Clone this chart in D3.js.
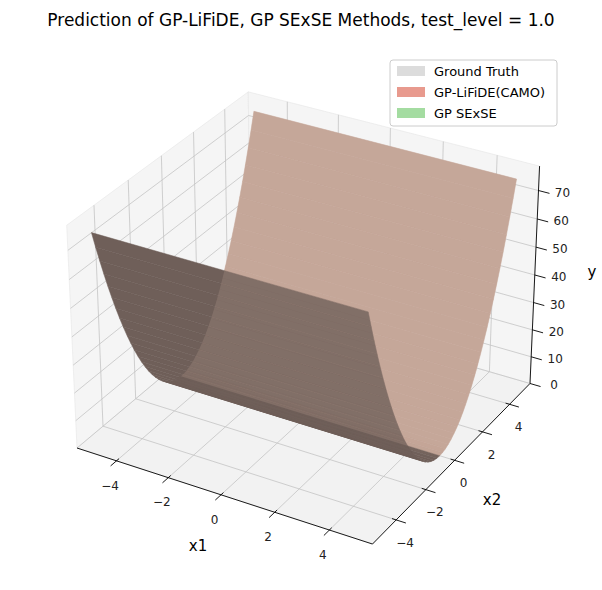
<!DOCTYPE html>
<html>
<head>
<meta charset="utf-8">
<script src="https://cdn.jsdelivr.net/npm/d3@7"></script>
<style>
  body { margin: 0; background: #fff; }
  svg text { font-family: "DejaVu Sans", sans-serif; }
</style>
</head>
<body>
<div id="graphic"></div>
<script>
// Chart data
const title = "Prediction of GP-LiFiDE, GP SExSE Methods, test_level = 1.0";
const x1Ticks = [-4, -2, 0, 2, 4];
const x2Ticks = [-4, -2, 0, 2, 4];
const zTicks = [0, 10, 20, 30, 40, 50, 60, 70];
const legendNames = ["Ground Truth", "GP-LiFiDE(CAMO)", "GP SExSE"];
const legendColors = ["#dcdcdc", "#e89a8e", "#a4dca1"];
// surface y = a * x2^2 sampled on x2 (constant along x1)
const surfCoef = 3.0;
const x2Samples = d3.range(-5, 5.0001, 0.2);
const x1Range = [-5, 5];

const width = 602, height = 590;
const lim = {x: [-5.55, 5.55], y: [-5.55, 5.55], z: [0, 78.5]};

// matplotlib-like perspective projection (azim -60, elev 30, dist 10)
const elev = 30 * Math.PI / 180, azim = -60 * Math.PI / 180;
const ba = [4, 4, 3].map(d => d * 1.8294640721620434 / Math.sqrt(41));
const R = ba.map(d => d / 2);
const ps = [Math.cos(elev) * Math.cos(azim), Math.cos(elev) * Math.sin(azim), Math.sin(elev)];
const eye = R.map((d, i) => d + 10 * ps[i]);
const w = ps;
let u = [-w[1], w[0], 0];
const un = Math.hypot(u[0], u[1]);
u = u.map(d => d / un);
const v = [w[1] * u[2] - w[2] * u[1], w[2] * u[0] - w[0] * u[2], w[0] * u[1] - w[1] * u[0]];
const dot = (a, b) => a[0] * b[0] + a[1] * b[1] + a[2] * b[2];

const nx = d3.scaleLinear().domain(lim.x).range([0, ba[0]]);
const ny = d3.scaleLinear().domain(lim.y).range([0, ba[1]]);
const nz = d3.scaleLinear().domain(lim.z).range([0, ba[2]]);

function raw(x, y, z) {
    const p = [nx(x), ny(y), nz(z)];
    const d = p.map((c, i) => c - eye[i]);
    const ze = -dot(w, d);
    return [dot(u, d) / ze, dot(v, d) / ze];
}
// fit screen scale from two floor corners
const pL = raw(lim.x[0], lim.y[0], lim.z[0]), pR = raw(lim.x[1], lim.y[1], lim.z[0]);
const s = (530 - 77) / (pR[0] - pL[0]);
const cx = 77 - s * pL[0], cy = 448 + s * pL[1];
function P(x, y, z) {
    const r = raw(x, y, z);
    return [cx + s * r[0], cy - s * r[1]];
}
const line = d3.line();

const svg = d3.select('#graphic').append('svg')
    .attr('width', width).attr('height', height);

// panes
const [x0, x1] = lim.x, [y0, y1] = lim.y, [z0, z1] = lim.z;
const panes = [
    [[x0, y0, z0], [x1, y0, z0], [x1, y1, z0], [x0, y1, z0]],
    [[x0, y0, z0], [x0, y1, z0], [x0, y1, z1], [x0, y0, z1]],
    [[x0, y1, z0], [x1, y1, z0], [x1, y1, z1], [x0, y1, z1]]
];
svg.selectAll('path.pane').data(panes).enter().append('path')
    .attr('d', d => line(d.map(p => P(...p))) + 'Z')
    .attr('fill', (d, i) => i === 0 ? '#f2f2f2' : '#f5f5f5')
    .attr('stroke', '#e6e6e6').attr('stroke-width', 0.6);

// grid lines
const grid = [];
x1Ticks.forEach(t => {
    grid.push([[t, y0, z0], [t, y1, z0]]);
    grid.push([[t, y1, z0], [t, y1, z1]]);
});
x2Ticks.forEach(t => {
    grid.push([[x0, t, z0], [x1, t, z0]]);
    grid.push([[x0, t, z0], [x0, t, z1]]);
});
zTicks.forEach(t => {
    grid.push([[x0, y0, t], [x0, y1, t]]);
    grid.push([[x0, y1, t], [x1, y1, t]]);
});
svg.selectAll('path.grid').data(grid).enter().append('path')
    .attr('d', d => line(d.map(p => P(...p))))
    .attr('stroke', '#c4c4c4').attr('stroke-width', 0.8).attr('fill', 'none');

// surface strips, back to front
const light = d3.rgb('#c6a799'), dark = d3.rgb('#635550');
const mix = d3.interpolateRgb(dark, light);
const strips = [];
for (let i = x2Samples.length - 1; i > 0; i--) {
    const a = x2Samples[i], b = x2Samples[i - 1];
    const m = (a + b) / 2;
    const slope = 2 * surfCoef * m;
    const nyv = -slope / Math.hypot(slope, 1);
    strips.push({a, b, m, t: (-nyv + 1) / 2});
}
const stripPath = d => line([
    P(x1Range[0], d.a, surfCoef * d.a * d.a), P(x1Range[1], d.a, surfCoef * d.a * d.a),
    P(x1Range[1], d.b, surfCoef * d.b * d.b), P(x1Range[0], d.b, surfCoef * d.b * d.b)
]) + 'Z';
const col = d => {
    const t = d.m > 0 ? 0.55 + 0.45 * d.t : 0.35 * d.t / 0.5 * 0.5;
    return mix(Math.max(0, Math.min(1, d.m > 0 ? 0.85 + 0.15 * d.t : 0.12 + 0.25 * d.t)));
};
svg.append('g').selectAll('path').data(strips).enter().append('path')
    .attr('d', stripPath).attr('fill', col).attr('stroke', col).attr('stroke-width', 0.5);
// faint overlay of back slope to mimic the stacked transparency
svg.append('g').selectAll('path').data(strips.filter(d => d.m > 0)).enter().append('path')
    .attr('d', stripPath).attr('fill', col).attr('opacity', 0.22);

// axis lines
const axes = [
    [[x0, y0, z0], [x1, y0, z0]],
    [[x1, y0, z0], [x1, y1, z0]],
    [[x1, y1, z0], [x1, y1, z1]]
];
svg.selectAll('path.axis').data(axes).enter().append('path')
    .attr('d', d => line(d.map(p => P(...p))))
    .attr('stroke', '#000').attr('stroke-width', 0.9).attr('fill', 'none');

function ticks(vals, pt, outPt, off, fmt) {
    vals.forEach(t => {
        const a = P(...pt(t)), b = P(...outPt(t));
        svg.append('line').attr('x1', a[0]).attr('y1', a[1]).attr('x2', b[0]).attr('y2', b[1])
            .attr('stroke', '#000').attr('stroke-width', 0.9);
        svg.append('text').attr('x', a[0] + off[0]).attr('y', a[1] + off[1])
            .attr('text-anchor', 'middle').attr('dominant-baseline', 'central')
            .attr('font-size', 12).attr('fill', '#222').text(fmt(t));
    });
}
const fmt = t => (t < 0 ? '\u2212' + Math.abs(t) : String(t));
ticks(x1Ticks, t => [t, y0 + 0.15, z0], t => [t, y0 - 0.35, z0], [-9, 27], fmt);
ticks(x2Ticks, t => [x1 - 0.15, t, z0], t => [x1 + 0.35, t, z0], [13, 24], fmt);
ticks(zTicks, t => [x1, y1, t], t => [x1 + 0.4, y1, t], [24, 2], fmt);

// axis labels
[["x1", 198, 546], ["x2", 492, 500], ["y", 592, 272]].forEach(([t, x, y]) => {
    svg.append('text').attr('x', x).attr('y', y).attr('text-anchor', 'middle')
        .attr('dominant-baseline', 'central').attr('font-size', 15).text(t);
});

// title
svg.append('text').attr('x', 301).attr('y', 20).attr('text-anchor', 'middle')
    .attr('dominant-baseline', 'central').attr('font-size', 17).text(title);

// legend
const lg = svg.append('g').attr('transform', 'translate(390,60)');
lg.append('rect').attr('width', 167).attr('height', 66).attr('rx', 3)
    .attr('fill', '#fff').attr('fill-opacity', 0.8).attr('stroke', '#cccccc');
legendNames.forEach((n, i) => {
    lg.append('rect').attr('x', 7).attr('y', 6 + i * 21).attr('width', 28).attr('height', 10)
        .attr('fill', legendColors[i]);
    lg.append('text').attr('x', 44).attr('y', 11 + i * 21).attr('dominant-baseline', 'central')
        .attr('font-size', 13).text(n);
});
</script>
</body>
</html>
